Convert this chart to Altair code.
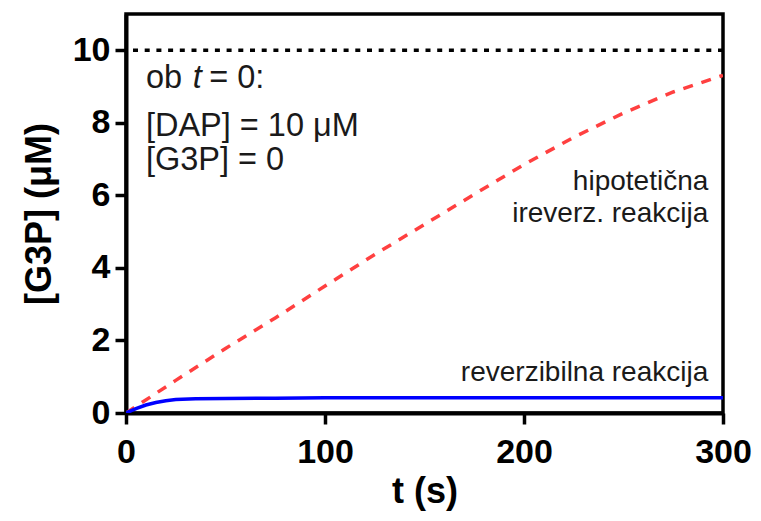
import altair as alt
import pandas as pd

# --- data ---
t_irrev = [0, 25, 50, 75, 100, 125, 150, 175, 200, 225, 250, 275, 300]
g3p_irrev = [0, 0.9, 1.78, 2.62, 3.5, 4.37, 5.2, 6.03, 6.85, 7.6, 8.27, 8.85, 9.31]

t_rev = [0, 5, 10, 15, 20, 25, 35, 50, 75, 100, 150, 200, 250, 300]
g3p_rev = [0, 0.12, 0.22, 0.29, 0.34, 0.37, 0.39, 0.40, 0.41, 0.42, 0.42, 0.42, 0.42, 0.42]

ref_level = [10]

x_ticks = [0, 100, 200, 300]
y_ticks = [0, 2, 4, 6, 8, 10]

# annotation texts (positions in data units)
left_text = ["ob", "[DAP] = 10 μM", "[G3P] = 0"]
left_t = [10, 10, 10]
left_g = [8.95, 7.65, 6.69]
italic_text = ["t"]
italic_t = [33.6]
italic_g = [8.95]
eq_text = ["= 0:"]
eq_t = [41.8]
eq_g = [8.95]
right_text = ["hipotetična", "ireverz. reakcija", "reverzibilna reakcija"]
right_t = [292.6, 292.6, 292.6]
right_g = [6.14, 5.26, 0.89]

FONT = "Liberation Sans"

x_enc = alt.X("t:Q",
              scale=alt.Scale(domain=[0, 300], nice=False, zero=False),
              axis=alt.Axis(values=x_ticks, title="t (s)", format="d", labelFlush=False))
y_enc = alt.Y("g:Q",
              scale=alt.Scale(domain=[0, 11], nice=False),
              axis=alt.Axis(values=y_ticks, title="[G3P] (μM)", format="d"))

df_irrev = pd.DataFrame({"t": t_irrev, "g": g3p_irrev})
df_rev = pd.DataFrame({"t": t_rev, "g": g3p_rev})
df_ref = pd.DataFrame({"g": ref_level})

irrev = alt.Chart(df_irrev).mark_line(
    color="#ff4040", strokeWidth=3.5, strokeDash=[10, 9], clip=True
).encode(x=x_enc, y=y_enc)

rev = alt.Chart(df_rev).mark_line(
    color="#0000ff", strokeWidth=3.5, clip=True
).encode(x=x_enc, y=y_enc)

ref = alt.Chart(df_ref).mark_rule(
    color="black", strokeWidth=3.3, strokeDash=[5, 6.7]
).encode(y=y_enc)

txt_color = "#1a1a1a"

lt = alt.Chart(pd.DataFrame({"t": left_t, "g": left_g, "label": left_text})).mark_text(
    align="left", baseline="alphabetic", font=FONT, fontSize=32.5, color=txt_color
).encode(x=x_enc, y=y_enc, text="label:N")

it = alt.Chart(pd.DataFrame({"t": italic_t, "g": italic_g, "label": italic_text})).mark_text(
    align="left", baseline="alphabetic", font=FONT, fontSize=32.5, fontStyle="italic", color=txt_color
).encode(x=x_enc, y=y_enc, text="label:N")

eq = alt.Chart(pd.DataFrame({"t": eq_t, "g": eq_g, "label": eq_text})).mark_text(
    align="left", baseline="alphabetic", font=FONT, fontSize=32.5, color=txt_color
).encode(x=x_enc, y=y_enc, text="label:N")

rt = alt.Chart(pd.DataFrame({"t": right_t, "g": right_g, "label": right_text})).mark_text(
    align="right", baseline="alphabetic", font=FONT, fontSize=28, color=txt_color
).encode(x=x_enc, y=y_enc, text="label:N")

chart = alt.layer(ref, irrev, rev, lt, it, eq, rt).properties(
    width=597,
    height=399,
    autosize=alt.AutoSizeParams(type="none"),
    padding={"left": 118, "top": 6, "right": 30, "bottom": 100},
).configure_view(
    stroke="black", strokeWidth=3.5
).configure_axis(
    domainColor="black", domainWidth=4,
    tickColor="black", tickWidth=3.5, tickSize=11,
    labelFont=FONT, labelFontSize=34, labelFontWeight="bold", labelColor="black",
    titleFont=FONT, titleFontSize=36, titleFontWeight="bold", titleColor="black",
    grid=False,
).configure_axisX(
    labelPadding=11, titlePadding=5,
).configure_axisY(
    labelPadding=5, titlePadding=14,
)

chart.save("out.html", embed_options={"renderer": "svg", "actions": False})
